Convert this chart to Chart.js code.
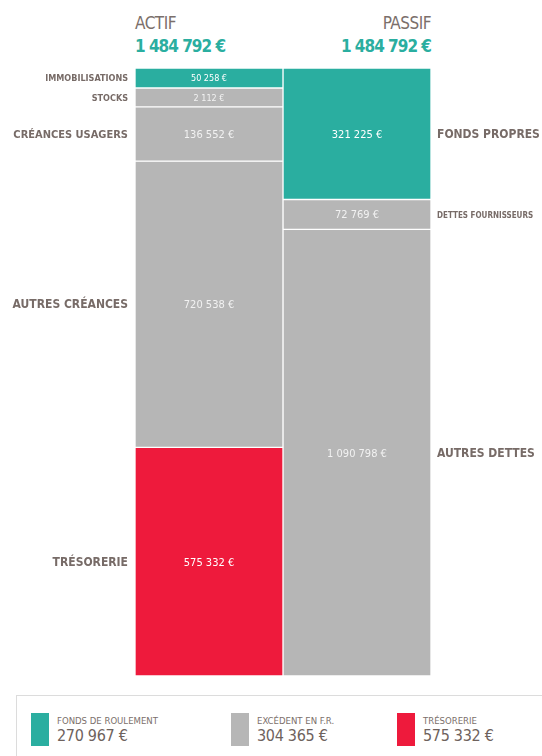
<!DOCTYPE html>
<html><head><meta charset="utf-8">
<script src="https://cdn.jsdelivr.net/npm/chart.js@4"></script>
<style>
html,body{margin:0;padding:0;background:#fff;width:542px;height:756px;overflow:hidden;font-family:"DejaVu Sans Condensed","Liberation Sans Narrow",sans-serif;}
#wrap{position:absolute;left:0;top:0;width:542px;height:690px;}
.hd{position:absolute;top:13px;font-size:17px;line-height:20px;}
.hd .t{color:#7b6f6b;letter-spacing:-0.5px;}
.hd .v{color:#2aaea0;font-weight:bold;margin-top:3px;letter-spacing:-1px;}
#legend{position:absolute;left:16px;top:695px;width:530px;height:70px;border-top:1px solid #dcdcdc;border-left:1px solid #dcdcdc;}
.it{position:absolute;top:17px;}
.sw{position:absolute;left:0;top:0;width:18px;height:33px;}
.lt{position:absolute;left:26px;top:2px;font-size:9.5px;color:#7b6f6b;white-space:nowrap;}
.lv{position:absolute;left:26px;top:13px;font-size:16px;color:#6e625d;white-space:nowrap;letter-spacing:-0.3px;}
</style></head>
<body>
<div class="hd" style="left:135px"><div class="t">ACTIF</div><div class="v" id="ta"></div></div>
<div class="hd" style="right:111px;text-align:right"><div class="t">PASSIF</div><div class="v" id="tp"></div></div>
<div id="wrap"><canvas id="c" width="542" height="690"></canvas></div>
<div id="legend"></div>
<script>
// ---- data ----
const columns = ['ACTIF', 'PASSIF'];
const actifLabels = ['IMMOBILISATIONS', 'STOCKS', 'CRÉANCES USAGERS', 'AUTRES CRÉANCES', 'TRÉSORERIE'];
const actifValues = [50258, 2112, 136552, 720538, 575332];
const actifKinds  = ['fonds', 'excedent', 'excedent', 'excedent', 'tresorerie'];
const passifLabels = ['FONDS PROPRES', 'DETTES FOURNISSEURS', 'AUTRES DETTES'];
const passifValues = [321225, 72769, 1090798];
const passifKinds  = ['fonds', 'excedent', 'excedent'];
const legendLabels = ['FONDS DE ROULEMENT', 'EXCÉDENT EN F.R.', 'TRÉSORERIE'];
const legendValues = [270967, 304365, 575332];
const legendKinds  = ['fonds', 'excedent', 'tresorerie'];

// ---- styles ----
const COLORS = {fonds: '#2aaea0', excedent: '#b6b6b6', tresorerie: '#ee1a3c'};
const MIN_SHARE = 0.032; // smallest segments are drawn with a minimum height
const fmt = v => String(v).replace(/\B(?=(\d{3})+(?!\d))/g, ' ') + ' €';
const sum = a => a.reduce((s, x) => s + x, 0);

document.getElementById('ta').textContent = fmt(sum(actifValues));
document.getElementById('tp').textContent = fmt(sum(passifValues));

function shares(values) {
  const tot = sum(values);
  const disp = values.map(v => Math.max(v, MIN_SHARE * tot));
  const dt = sum(disp);
  return disp.map(v => v / dt * 100);
}
const aShares = shares(actifValues), pShares = shares(passifValues);

const datasets = [];
actifLabels.forEach((l, i) => datasets.push({
  label: l, side: 0, raw: actifValues[i], data: [aShares[i], null],
  backgroundColor: COLORS[actifKinds[i]], borderColor: '#ffffff', borderWidth: 1, borderSkipped: false
}));
passifLabels.forEach((l, i) => datasets.push({
  label: l, side: 1, raw: passifValues[i], data: [null, pShares[i]],
  backgroundColor: COLORS[passifKinds[i]], borderColor: '#ffffff', borderWidth: 1, borderSkipped: false
}));

const FONT = '"DejaVu Sans Condensed","Liberation Sans Narrow",sans-serif';
const labelPlugin = {
  id: 'segLabels',
  afterDatasetsDraw(chart) {
    const ctx = chart.ctx;
    chart.data.datasets.forEach((ds, di) => {
      const el = chart.getDatasetMeta(di).data[ds.side];
      if (!el) return;
      const top = Math.min(el.y, el.base), bot = Math.max(el.y, el.base);
      const h = bot - top, cy = (top + bot) / 2;
      const small = h < 25;
      ctx.save();
      ctx.textBaseline = 'middle';
      ctx.fillStyle = ds.backgroundColor === COLORS.excedent ? '#f2f2f2' : '#ffffff';
      ctx.font = (small ? '9px ' : '11px ') + FONT;
      ctx.textAlign = 'center';
      ctx.fillText(fmt(ds.raw), el.x, cy + 1);
      ctx.fillStyle = '#776b67';
      let size = small ? 9 : 12;
      const avail = ds.side === 0 ? 120 : 104;
      ctx.font = 'bold ' + size + 'px ' + FONT;
      while (ctx.measureText(ds.label).width > avail && size > 8) { size -= 1; ctx.font = 'bold ' + size + 'px ' + FONT; }
      if (ds.side === 0) { ctx.textAlign = 'right'; ctx.fillText(ds.label, el.x - el.width / 2 - 7, cy + 1); }
      else { ctx.textAlign = 'left'; ctx.fillText(ds.label, el.x + el.width / 2 + 6, cy + 1); }
      ctx.restore();
    });
  }
};

new Chart(document.getElementById('c'), {
  type: 'bar',
  data: {labels: columns, datasets},
  options: {
    responsive: false, animation: false,
    layout: {padding: {left: 135, right: 111, top: 68, bottom: 14}},
    plugins: {legend: {display: false}, tooltip: {enabled: false}},
    scales: {
      x: {stacked: true, display: false},
      y: {stacked: true, display: false, reverse: true, min: 0, max: 100}
    },
    datasets: {bar: {barPercentage: 1, categoryPercentage: 1}}
  },
  plugins: [labelPlugin]
});

const lg = document.getElementById('legend');
const lefts = [14, 214, 380];
legendLabels.forEach((l, i) => {
  const d = document.createElement('div');
  d.className = 'it'; d.style.left = lefts[i] + 'px';
  d.innerHTML = '<div class="sw" style="background:' + COLORS[legendKinds[i]] + '"></div>' +
    '<div class="lt">' + l + '</div><div class="lv">' + fmt(legendValues[i]) + '</div>';
  lg.appendChild(d);
});
</script>
</body></html>
